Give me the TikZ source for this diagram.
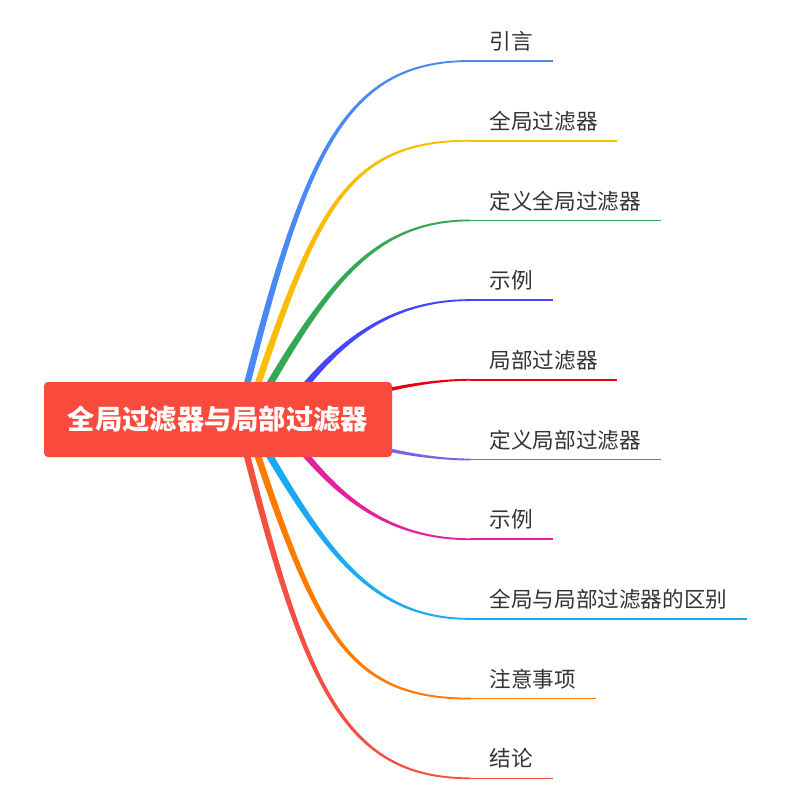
\documentclass[tikz,border=0pt]{standalone}
\usepackage{fontspec}
\setmainfont{Noto Sans CJK SC}
\usetikzlibrary{calc}
\definecolor{cblue}{HTML}{4A89F3}
\definecolor{cyellow}{HTML}{FBBC04}
\definecolor{cgreen}{HTML}{34A853}
\definecolor{cindigo}{HTML}{4646FF}
\definecolor{cred}{HTML}{E60012}
\definecolor{cpurple}{HTML}{7B61E8}
\definecolor{cmagenta}{HTML}{E2229E}
\definecolor{clblue}{HTML}{1AA9F5}
\definecolor{corange}{HTML}{FF7A00}
\definecolor{credor}{HTML}{F45042}
\definecolor{cbox}{HTML}{F84B3D}
\definecolor{txt}{HTML}{333333}
\newcommand{\branch}[6]{%
  \fill[#1] ($(#3)+(-2.8,{(#2)*2.8})$)
    .. controls ($(#4)+(-2.1,{(#2)*2.1})$) and ($(#6.south west)+(#5,{(#2)*1.1})$)
    .. ($(#6.south west)+(0,{(#2)*0.9})$)
    -- ($(#6.south west)+(0,{-(#2)*0.9})$)
    .. controls ($(#6.south west)+(#5,{-(#2)*1.1})$) and ($(#4)+(2.1,{-(#2)*2.1})$)
    .. ($(#3)+(2.8,{-(#2)*2.8})$) -- cycle;
  \draw[#1, line width=1.6pt] (#6.south west) -- (#6.south east);}
\begin{document}
\begin{tikzpicture}[x=1pt,y=-1pt,
  leaf/.style={anchor=south west, inner xsep=19.5pt, inner ysep=0pt, text depth=11.2pt,
    font=\fontsize{21.6pt}{25pt}\selectfont, text=txt},
  rootbox/.style={fill=cbox, rounded corners=4pt, minimum width=348pt, minimum height=75pt,
    inner sep=0pt, text=white, font=\fontsize{27.3pt}{31pt}\selectfont\bfseries}]
\fill[white] (0,0) rectangle (787,809);
\path[use as bounding box] (0,0) rectangle (787,809);
% leaves
\node[leaf] (l1) at (470,61) {引言};
\node[leaf] (l2) at (470,140.7) {全局过滤器};
\node[leaf] (l3) at (470,220.4) {定义全局过滤器};
\node[leaf] (l4) at (470,300.1) {示例};
\node[leaf] (l5) at (470,379.8) {局部过滤器};
\node[leaf] (l6) at (470,459.5) {定义局部过滤器};
\node[leaf] (l7) at (470,539.2) {示例};
\node[leaf] (l8) at (470,618.9) {全局与局部过滤器的区别};
\node[leaf] (l9) at (470,698.6) {注意事项};
\node[leaf] (l10) at (470,778.3) {结论};
% branches
\branch{cblue}{-1}{238,420}{303,160}{-130}{l1}
\branch{cyellow}{-1}{246,420}{315,210}{-125}{l2}
\branch{cgreen}{-1}{249,420}{323,290}{-100}{l3}
\branch{cindigo}{-1}{278,420}{320,365}{-100}{l4}
\branch{cred}{-1}{300,420}{350,395}{-50}{l5}
\branch{cpurple}{1}{300,420}{350,445}{-50}{l6}
\branch{cmagenta}{1}{278,420}{320,475}{-100}{l7}
\branch{clblue}{1}{249,420}{323,550}{-100}{l8}
\branch{corange}{1}{246,420}{315,630}{-125}{l9}
\branch{credor}{1}{238,420}{303,680}{-130}{l10}
% root
\node[rootbox] (root) at (218,419.5) {全局过滤器与局部过滤器};
\end{tikzpicture}
\end{document}
